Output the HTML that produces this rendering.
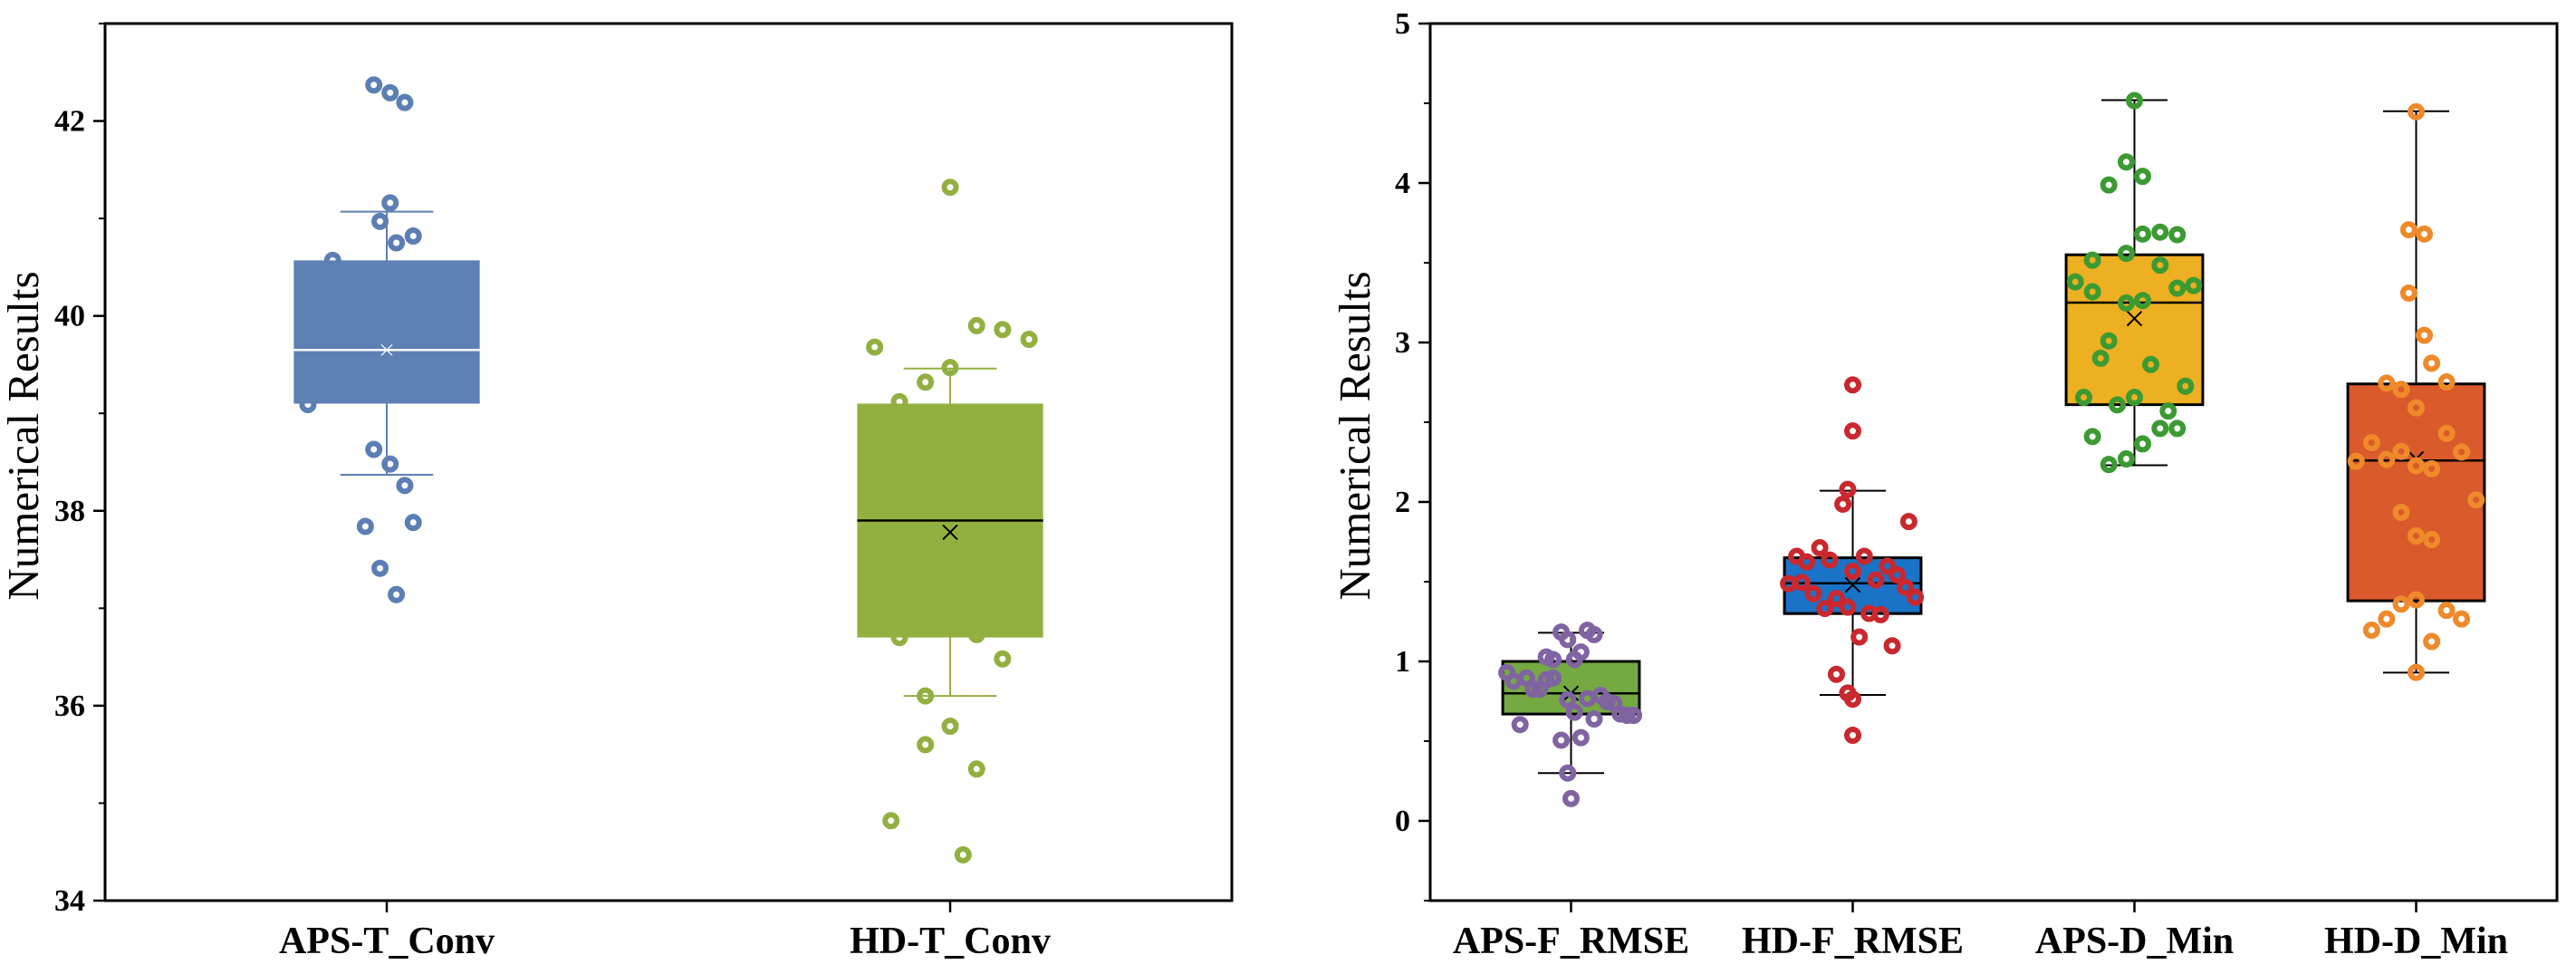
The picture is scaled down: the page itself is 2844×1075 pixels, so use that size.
<!DOCTYPE html>
<html><head><meta charset="utf-8"><style>
html,body{margin:0;padding:0;background:#fff}
svg{display:block}
text{font-family:"Liberation Serif",serif}
</style></head><body>
<svg id="chart" width="2844" height="1075" xmlns="http://www.w3.org/2000/svg"></svg>
<script>
// ---- Left panel data ----
const leftCats = ["APS-T_Conv","HD-T_Conv"];
const leftTicks = [34,36,38,40,42];
const leftQ1 = [39.1,36.7];
const leftQ3 = [40.57,39.1];
const leftMed = [39.65,37.9];
const leftMean = [39.65,37.78];
const leftWLo = [38.37,36.1];
const leftWHi = [41.07,39.46];
const leftPtsA = [42.37,42.29,42.19,41.16,40.97,40.75,40.82,40.57,39.09,39.19,38.63,38.48,38.26,37.84,37.88,37.41,37.14,39.68];
const leftJitA = [-0.023,0.006,0.032,0.006,-0.012,0.017,0.047,-0.096,-0.14,0.093,-0.023,0.006,0.032,-0.038,0.047,-0.012,0.017,0.1];
const leftPtsB = [41.32,39.68,39.9,39.86,39.76,39.47,39.32,39.12,36.73,36.48,36.1,35.79,35.6,35.35,34.82,34.47,36.7];
const leftJitB = [0,-0.134,0.047,0.093,0.14,0,-0.044,-0.09,0.047,0.093,-0.044,0,-0.044,0.047,-0.105,0.023,-0.09];
// ---- Right panel data ----
const rightCats = ["APS-F_RMSE","HD-F_RMSE","APS-D_Min","HD-D_Min"];
const rightTicks = [0,1,2,3,4,5];
const rightQ1 = [0.67,1.3,2.61,1.38];
const rightQ3 = [1.0,1.65,3.55,2.74];
const rightMed = [0.8,1.49,3.25,2.26];
const rightMean = [0.8,1.48,3.15,2.27];
const rightWLo = [0.3,0.79,2.23,0.93];
const rightWHi = [1.18,2.07,4.52,4.45];
const rPts0 = [0.93,0.876,0.896,0.826,0.826,1.028,1.012,0.896,0.884,1.184,1.137,1.012,1.059,1.195,1.168,0.759,0.681,0.767,0.787,0.748,0.736,0.67,0.662,0.662,0.639,0.604,0.506,0.522,0.3,0.14];
const rJit0 = [-0.228,-0.204,-0.158,-0.134,-0.111,-0.088,-0.064,-0.064,-0.088,-0.035,-0.012,0.012,0.035,0.058,0.082,-0.012,0.012,0.058,0.105,0.128,0.152,0.175,0.199,0.222,0.082,-0.181,-0.035,0.035,-0.012,0];
const rPts1 = [1.659,1.624,1.713,1.636,1.659,1.597,1.542,1.565,1.488,1.495,1.425,1.394,1.332,1.34,1.511,1.464,1.402,1.301,1.293,2.734,2.445,2.079,1.986,1.877,1.153,1.098,0.919,0.802,0.763,0.537];
const rJit1 = [-0.199,-0.164,-0.117,-0.082,0.041,0.123,0.158,0,-0.228,-0.181,-0.14,-0.058,-0.099,-0.018,0.082,0.187,0.222,0.058,0.099,0,0,-0.018,-0.035,0.199,0.023,0.14,-0.058,-0.018,0,0];
const rPts2 = [4.517,4.132,4.042,3.988,3.68,3.692,3.676,3.516,3.559,3.485,3.38,3.318,3.248,3.263,3.341,3.357,3.01,2.901,2.862,2.726,2.656,2.656,2.609,2.57,2.461,2.461,2.41,2.364,2.27,2.235];
const rJit2 = [0,-0.029,0.029,-0.091,0.029,0.091,0.152,-0.149,-0.029,0.091,-0.21,-0.149,-0.029,0.029,0.152,0.21,-0.091,-0.12,0.058,0.181,-0.18,0,-0.061,0.12,0.091,0.152,-0.149,0.029,-0.029,-0.091];
const rPts3 = [4.447,3.707,3.68,3.31,3.045,2.87,2.745,2.706,2.753,2.59,2.43,2.372,2.313,2.317,2.255,2.266,2.227,2.208,2.013,1.935,1.787,1.764,1.386,1.359,1.266,1.196,1.32,1.266,1.125,0.931];
const rJit3 = [0,-0.026,0.029,-0.026,0.029,0.055,-0.105,-0.053,0.108,0,0.108,-0.158,0.161,-0.053,-0.213,-0.105,0,0.055,0.213,-0.053,0,0.055,0,-0.053,-0.105,-0.158,0.108,0.161,0.055,0];

const NS="http://www.w3.org/2000/svg";
const svg=document.getElementById('chart');
function mk(tag,attrs,parent){const e=document.createElementNS(NS,tag);for(const k in attrs)e.setAttribute(k,attrs[k]);(parent||svg).appendChild(e);return e;}

function panel(cfg){
  const g=mk('g',{});
  
  
  const L=cfg.x0,R=cfg.x1,T=26,B=994;
  const y=v=>B-(v-cfg.ymin)/(cfg.ymax-cfg.ymin)*(B-T);
  const n=cfg.cats.length, band=(R-L)/n;
  const x=(i,j)=>L+band*(i+0.5)+ (j||0)*band;
  function drawPts(){
    cfg.pts.forEach((arr,i)=>{
      arr.forEach((v,k)=>{
        const c=mk('circle',{cx:x(i,cfg.jit[i][k]),cy:y(v),r:cfg.pr,fill:'none',stroke:cfg.ptCol[i],'stroke-width':cfg.psw},g);
        
        
      });
    });
  }
  if(!cfg.ptsOnTop) drawPts();
  cfg.cats.forEach((c,i)=>{
    const cx=x(i),bw=band*cfg.bw,cw=band*cfg.cw;
    const wc=cfg.whiskCol[i];
    const wl=mk('line',{x1:cx,x2:cx,y1:y(cfg.wlo[i]),y2:y(cfg.whi[i]),stroke:wc,'stroke-width':2},g);
    
    
    mk('line',{x1:cx-cw/2,x2:cx+cw/2,y1:y(cfg.wlo[i]),y2:y(cfg.wlo[i]),stroke:wc,'stroke-width':2},g);
    mk('line',{x1:cx-cw/2,x2:cx+cw/2,y1:y(cfg.whi[i]),y2:y(cfg.whi[i]),stroke:wc,'stroke-width':2},g);
    const bx=mk('rect',{x:cx-bw/2,y:y(cfg.q3[i]),width:bw,height:y(cfg.q1[i])-y(cfg.q3[i]),fill:cfg.boxCol[i],stroke:cfg.boxStroke[i],'stroke-width':cfg.boxSW},g);
    
    
    const md=mk('line',{x1:cx-bw/2,x2:cx+bw/2,y1:y(cfg.med[i]),y2:y(cfg.med[i]),stroke:cfg.medCol[i],'stroke-width':2.5},g);
    
    
    const my=y(cfg.mean[i]),s=cfg.medCol[i]==='#ffffff'?6:8;
    mk('path',{d:`M${cx-s} ${my-s}L${cx+s} ${my+s}M${cx-s} ${my+s}L${cx+s} ${my-s}`,stroke:cfg.medCol[i],'stroke-width':cfg.medCol[i]==='#ffffff'?1.2:2,fill:'none'},g);
    mk('line',{x1:cx,x2:cx,y1:B,y2:B+13,stroke:'#000','stroke-width':2.5},g);
    const t=mk('text',{x:cx,y:1052,'text-anchor':'middle','font-size':42,'font-weight':'bold'},g);
    t.textContent=c;
    
    
  });
  if(cfg.ptsOnTop) drawPts();
  const fr=mk('rect',{x:L,y:T,width:R-L,height:B-T,fill:'none',stroke:'#000','stroke-width':3},g);
  
  
  cfg.ticks.forEach(v=>{
    mk('line',{x1:L-13,x2:L,y1:y(v),y2:y(v),stroke:'#000','stroke-width':2.5},g);
    const t=mk('text',{x:L-22,y:y(v)+11,'text-anchor':'end','font-size':34,'font-weight':'bold'},g);
    t.textContent=v;
    
    
  });
  cfg.minor.forEach(v=>{
    mk('line',{x1:L-7,x2:L,y1:y(v),y2:y(v),stroke:'#000','stroke-width':2},g);
  });
  const yt=mk('text',{x:0,y:0,'text-anchor':'middle','font-size':49,transform:`translate(${cfg.titleX},481) rotate(-90)`},g);
  yt.textContent='Numerical Results';
  
  
}

panel({name:'left-panel',x0:116,x1:1360,ymin:34,ymax:43,cats:leftCats,ticks:leftTicks,minor:[35,37,39,41,43],
  q1:leftQ1,q3:leftQ3,med:leftMed,mean:leftMean,wlo:leftWLo,whi:leftWHi,
  pts:[leftPtsA,leftPtsB],jit:[leftJitA,leftJitB],ptCol:['#5b7fb4','#92b040'],
  boxCol:['#5d80b5','#92b040'],boxStroke:['none','none'],boxSW:0,medCol:['#ffffff','#000000'],whiskCol:['#5d80b5','#92b040'],
  bw:0.33,cw:0.165,pr:6.5,psw:6,ptsOnTop:false,titleX:42});

panel({name:'right-panel',x0:1579,x1:2823,ymin:-0.5,ymax:5,cats:rightCats,ticks:rightTicks,minor:[-0.5,0.5,1.5,2.5,3.5,4.5],
  q1:rightQ1,q3:rightQ3,med:rightMed,mean:rightMean,wlo:rightWLo,whi:rightWHi,
  pts:[rPts0,rPts1,rPts2,rPts3],jit:[rJit0,rJit1,rJit2,rJit3],ptCol:['#8064a2','#c9282e','#3c9a32','#ee8a2a'],
  boxCol:['#74aa41','#1a73c6','#edb022','#d95a2b'],boxStroke:['#000','#000','#000','#000'],boxSW:3,medCol:['#000','#000','#000','#000'],whiskCol:['#000','#000','#000','#000'],
  bw:0.485,cw:0.235,pr:6.5,psw:6,ptsOnTop:true,titleX:1512});
</script>
</body></html>
